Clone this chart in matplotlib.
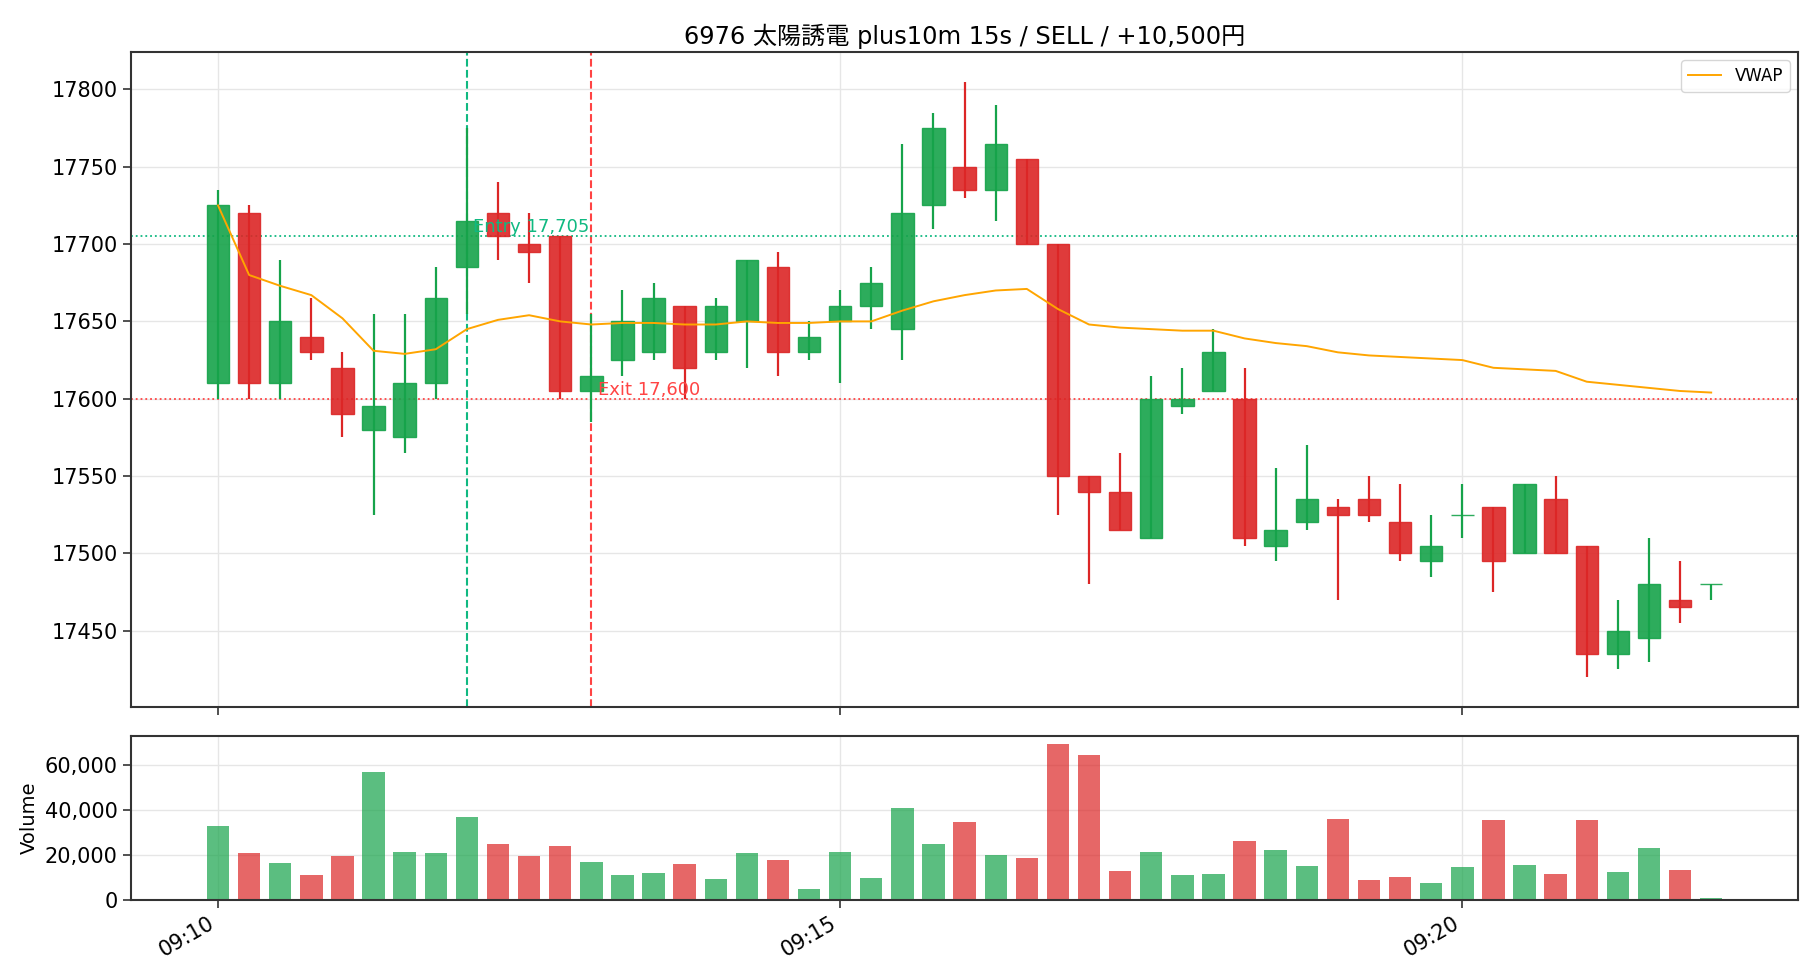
import numpy as np
import pandas as pd
import matplotlib
matplotlib.use("Agg")
import matplotlib.pyplot as plt
import matplotlib.dates as mdates
from matplotlib.ticker import FuncFormatter, MultipleLocator

plt.rcParams["font.family"] = ["DejaVu Sans", "Noto Sans CJK JP"]

# 15s bars from 09:10:00
times = pd.date_range("2024-01-01 09:10:00", periods=49, freq="15s")
opens = [17610, 17720, 17610, 17640, 17620, 17580, 17575, 17610, 17685, 17720,
         17700, 17705, 17605, 17625, 17630, 17660, 17630, 17650, 17685, 17630,
         17650, 17660, 17645, 17725, 17750, 17735, 17755, 17700, 17550, 17540,
         17510, 17595, 17605, 17600, 17505, 17520, 17530, 17535, 17520, 17495,
         17525, 17530, 17500, 17535, 17505, 17435, 17445, 17470, 17480]
highs = [17735, 17725, 17690, 17665, 17630, 17655, 17655, 17685, 17775, 17740,
         17720, 17705, 17655, 17670, 17675, 17660, 17665, 17690, 17695, 17650,
         17670, 17685, 17765, 17785, 17805, 17790, 17755, 17700, 17550, 17565,
         17615, 17620, 17645, 17620, 17555, 17570, 17535, 17550, 17545, 17525,
         17545, 17530, 17545, 17550, 17505, 17470, 17510, 17495, 17480]
lows = [17600, 17600, 17600, 17625, 17575, 17525, 17565, 17600, 17655, 17690,
        17675, 17600, 17585, 17615, 17625, 17600, 17625, 17620, 17615, 17625,
        17610, 17645, 17625, 17710, 17730, 17715, 17700, 17525, 17480, 17515,
        17510, 17590, 17605, 17505, 17495, 17515, 17470, 17520, 17495, 17485,
        17510, 17475, 17500, 17500, 17420, 17425, 17430, 17455, 17470]
closes = [17725, 17610, 17650, 17630, 17590, 17595, 17610, 17665, 17715, 17705,
          17695, 17605, 17615, 17650, 17665, 17620, 17660, 17690, 17630, 17640,
          17660, 17675, 17720, 17775, 17735, 17765, 17700, 17550, 17540, 17515,
          17600, 17600, 17630, 17510, 17515, 17535, 17525, 17525, 17500, 17505,
          17525, 17495, 17545, 17500, 17435, 17450, 17480, 17465, 17480]
volumes = [32700, 20700, 16200, 10900, 19300, 56800, 21100, 20700, 36700, 24700,
           19300, 23800, 16700, 10900, 11700, 15800, 9100, 20700, 17500, 4600,
           21100, 9500, 40700, 24700, 34500, 19800, 18400, 69300, 64400, 12600,
           21100, 10900, 11300, 26000, 22000, 14900, 35800, 8600, 10000, 7300,
           14400, 35400, 15300, 11300, 35400, 12200, 22900, 13100, 600]
vwap = [17725, 17680, 17673, 17667, 17652, 17631, 17629, 17632, 17645, 17651,
        17654, 17650, 17648, 17649, 17649, 17648, 17648, 17650, 17649, 17649,
        17650, 17650, 17657, 17663, 17667, 17670, 17671, 17658, 17648, 17646,
        17645, 17644, 17644, 17639, 17636, 17634, 17630, 17628, 17627, 17626,
        17625, 17620, 17619, 17618, 17611, 17609, 17607, 17605, 17604]

entry_time = pd.Timestamp("2024-01-01 09:12:00")
exit_time = pd.Timestamp("2024-01-01 09:13:00")
entry_price = 17705
exit_price = 17600

GREEN = "#16a34a"
RED = "#dc2626"
ENTRY_C = "#10b981"
EXIT_C = "#ff4444"

x = mdates.date2num(times)
step = 15 / 86400
w = step * 0.72

fig = plt.figure(figsize=(18.2, 9.8), dpi=100)
gs = fig.add_gridspec(2, 1, height_ratios=[4, 1], hspace=0.071,
                      left=0.072, right=0.988, top=0.947, bottom=0.082)
ax = fig.add_subplot(gs[0])
axv = fig.add_subplot(gs[1], sharex=ax)

o = np.array(opens)
c = np.array(closes)
up = c >= o
colors = np.where(up, GREEN, RED)

ax.vlines(x, lows, highs, colors=colors, linewidth=1.6, zorder=3)
ax.bar(x, np.abs(c - o), bottom=np.minimum(o, c), width=w, color=colors,
       edgecolor=colors, linewidth=1.0, alpha=0.9, zorder=3)
ax.plot(x, vwap, color="orange", linewidth=1.4, label="VWAP", zorder=4)

ax.axvline(mdates.date2num(entry_time), color=ENTRY_C, linestyle="--", linewidth=1.5)
ax.axvline(mdates.date2num(exit_time), color=EXIT_C, linestyle="--", linewidth=1.5)
ax.axhline(entry_price, color=ENTRY_C, linestyle=":", linewidth=1.3)
ax.axhline(exit_price, color=EXIT_C, linestyle=":", linewidth=1.3)
ax.text(mdates.date2num(entry_time) + 3 / 86400, entry_price, f"Entry {entry_price:,}",
        color=ENTRY_C, fontsize=13, va="bottom", ha="left")
ax.text(mdates.date2num(exit_time) + 3 / 86400, exit_price, f"Exit {exit_price:,}",
        color=EXIT_C, fontsize=13, va="bottom", ha="left")

ax.set_title("6976 太陽誘電 plus10m 15s / SELL / +10,500円", fontsize=17.4)
ax.legend(loc="upper right", fontsize=12)
ax.grid(True, color="#e6e6e6", linewidth=1.0)
ax.set_axisbelow(True)
plt.setp(ax.get_xticklabels(), visible=False)

axv.bar(x, volumes, width=w, color=colors, alpha=0.7)
axv.set_ylabel("Volume", fontsize=14)
axv.grid(True, color="#e6e6e6", linewidth=1.0)
axv.set_axisbelow(True)
axv.yaxis.set_major_locator(MultipleLocator(20000))
axv.yaxis.set_major_formatter(FuncFormatter(lambda v, p: f"{int(v):,}"))

axv.xaxis.set_major_locator(mdates.MinuteLocator(byminute=range(0, 60, 5)))
axv.xaxis.set_major_formatter(mdates.DateFormatter("%H:%M"))
for lab in axv.get_xticklabels():
    lab.set_rotation(30)
    lab.set_ha("right")

for a in (ax, axv):
    a.tick_params(labelsize=15, length=6, width=1.2, color="#333333")
    for s in a.spines.values():
        s.set_color("#333333")
        s.set_linewidth(1.5)

fig.savefig("out.png", dpi=100)
